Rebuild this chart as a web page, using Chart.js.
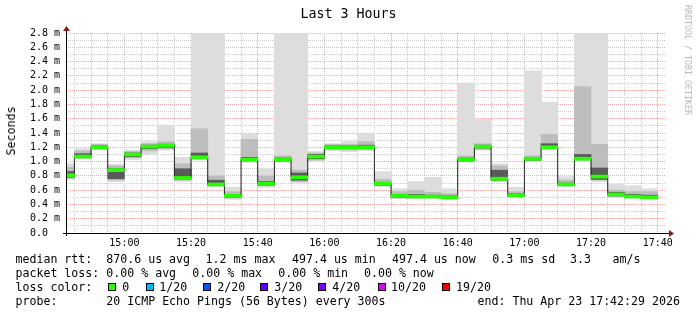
<!DOCTYPE html>
<html>
<head>
<meta charset="utf-8">
<script src="https://cdn.jsdelivr.net/npm/chart.js@4.4.1/dist/chart.umd.min.js"></script>
<style>
  body { margin: 0; background: #fff; }
  #wrap { position: relative; width: 697px; height: 315px; font-family: "DejaVu Sans Mono", monospace; color: #000; overflow: hidden; }
  #chart { position: absolute; left: 0; top: 0; }
  .txt { position: absolute; white-space: pre; font-size: 11.6px; line-height: 14px; }
  #title { position: absolute; left: 0; top: 6px; width: 697px; text-align: center; font-size: 13.3px; line-height: 16px; }
  #ylabel { position: absolute; left: 11px; top: 131px; transform: translate(-50%, -50%) rotate(-90deg); font-size: 11.6px; white-space: pre; }
  #credit { position: absolute; left: 683px; top: 5px; writing-mode: vertical-rl; font-size: 8.3px; color: #b8b8b8; white-space: pre; }
  .box { position: absolute; width: 6px; height: 6px; border: 1px solid #000; }
</style>
</head>
<body>
<div id="wrap">
  <canvas id="chart" width="697" height="315"></canvas>
  <div id="title"></div>
  <div id="ylabel"></div>
  <div id="credit"></div>
  <div id="legend"></div>
</div>
<script>
const titleText = "Last 3 Hours"
const yAxisTitle = "Seconds"
const creditText = "RRDTOOL / TOBI OETIKER"

// 5 minute steps, start time of each step
const stepTimes = ["14:40","14:45","14:50","14:55","15:00","15:05","15:10","15:15","15:20","15:25","15:30","15:35",
  "15:40","15:45","15:50","15:55","16:00","16:05","16:10","16:15","16:20","16:25","16:30","16:35",
  "16:40","16:45","16:50","16:55","17:00","17:05","17:10","17:15","17:20","17:25","17:30","17:35"]
const stepLength = 5
const rangeStart = "14:42:29"
const rangeEnd = "17:42:29"

// values in milliseconds
const median   = [0.81,1.07,1.20,0.88,1.10,1.21,1.23,0.77,1.06,0.68,0.52,1.03,0.69,1.03,0.78,1.07,1.20,1.20,1.20,0.69,0.52,0.51,0.51,0.50,1.03,1.21,0.76,0.53,1.04,1.20,0.68,1.04,0.79,0.54,0.51,0.50]
const smokeMax = [0.97,1.18,1.25,0.96,1.16,1.28,1.51,1.06,2.80,2.80,0.64,1.38,0.90,2.80,2.80,1.14,1.25,1.28,1.40,0.86,0.62,0.72,0.78,0.62,2.10,1.59,0.97,0.64,2.27,1.83,0.79,2.80,2.80,0.68,0.66,0.62]
const smokeMin = [0.75,1.04,1.17,0.72,1.03,1.11,1.16,0.72,1.03,0.65,0.47,0.99,0.64,0.99,0.70,1.00,1.15,1.14,1.15,0.65,0.48,0.48,0.49,0.47,0.99,1.16,0.72,0.50,1.00,1.17,0.65,1.00,0.72,0.50,0.49,0.48]
const midHi    = [0.92,1.15,1.24,0.94,1.14,1.25,1.28,0.97,1.46,0.80,0.58,1.31,0.80,1.08,0.88,1.12,1.24,1.24,1.28,0.75,0.58,0.60,0.57,0.55,1.08,1.25,0.94,0.58,1.08,1.38,0.74,2.05,1.24,0.60,0.58,0.58]
const midLo    = [0.77,1.05,1.18,0.74,1.05,1.15,1.18,0.74,1.04,0.66,0.49,1.00,0.66,1.00,0.72,1.02,1.17,1.16,1.17,0.66,0.49,0.49,0.49,0.48,1.00,1.17,0.73,0.51,1.01,1.18,0.66,1.02,0.74,0.51,0.50,0.49]
const coreHi   = [0.86,1.11,1.22,0.90,1.12,1.23,1.24,0.90,1.12,0.74,0.54,1.06,0.72,1.05,0.84,1.10,1.22,1.22,1.23,0.71,0.54,0.54,0.53,0.52,1.05,1.23,0.88,0.55,1.05,1.25,0.70,1.10,0.91,0.57,0.54,0.53]
const coreLo   = [0.78,1.06,1.19,0.76,1.07,1.18,1.20,0.75,1.05,0.67,0.50,1.01,0.67,1.01,0.74,1.04,1.19,1.18,1.18,0.67,0.50,0.50,0.50,0.49,1.01,1.19,0.74,0.51,1.02,1.19,0.67,1.03,0.75,0.52,0.50,0.49]
const medianHalfWidth = 0.021

const xTickLabels = ["15:00","15:20","15:40","16:00","16:20","16:40","17:00","17:20","17:40"]
const yTickLabels = ["0.0","0.2 m","0.4 m","0.6 m","0.8 m","1.0 m","1.2 m","1.4 m","1.6 m","1.8 m","2.0 m","2.2 m","2.4 m","2.6 m","2.8 m"]
const yMax = 2.8
const yStep = 0.1

const statsRow  = ["median rtt:", "870.6 us avg", "1.2 ms max", "497.4 us min", "497.4 us now", "0.3 ms sd", "3.3", "am/s"]
const lossRow   = ["packet loss:", "0.00 % avg", "0.00 % max", "0.00 % min", "0.00 % now"]
const lossTitle = "loss color:"
const lossLabels = ["0","1/20","2/20","3/20","4/20","10/20","19/20"]
const lossColors = ["#26ff00","#00b8ff","#0059ff","#5e00ff","#7e00ff","#dd00ff","#ff0000"]
const probeRow  = ["probe:", "20 ICMP Echo Pings (56 Bytes) every 300s", "end: Thu Apr 23 17:42:29 2026"]

// legend layout (pixels)
const rowTop = [252, 266, 280, 294]
const statsX = [15.5, 106.3, 205.6, 292, 392, 492.3, 570, 612.5]
const lossX  = [15.5, 106.3, 192.3, 278.3, 364]
const probeX = [15.5, 106.3, 477.5]
const boxX   = [108.3, 145.7, 202.7, 260, 318.3, 377.7, 441.7]
const boxLabelX = [122.3, 159.3, 217.3, 274.3, 332.3, 391, 456]

const font = "'DejaVu Sans Mono', monospace"
const gridMinor = "#cccccc"
const gridMajor = "#f0a8a8"

function toMin(t) {
  const p = t.split(":").map(Number)
  return p[0] * 60 + p[1] + (p[2] || 0) / 60
}
function fmtMin(v) {
  const h = Math.floor(v / 60), m = Math.round(v - h * 60)
  return String(h).padStart(2, "0") + ":" + String(m).padStart(2, "0")
}

const centers = stepTimes.map(t => toMin(t) + stepLength / 2)
const gridTimes = stepTimes.slice(1).map(toMin).concat([toMin(stepTimes[stepTimes.length - 1]) + stepLength])
const band = (lo, hi) => centers.map((x, i) => ({ x, y: [lo[i], hi[i]] }))

document.getElementById("title").textContent = titleText
document.getElementById("ylabel").textContent = yAxisTitle
document.getElementById("credit").textContent = creditText

const legend = document.getElementById("legend")
function put(text, x, top) {
  const el = document.createElement("div")
  el.className = "txt"
  el.style.left = x + "px"
  el.style.top = top + "px"
  el.textContent = text
  legend.appendChild(el)
}
statsRow.forEach((s, i) => put(s, statsX[i], rowTop[0]))
lossRow.forEach((s, i) => put(s, lossX[i], rowTop[1]))
put(lossTitle, 15.5, rowTop[2])
lossLabels.forEach((s, i) => {
  const box = document.createElement("div")
  box.className = "box"
  box.style.left = boxX[i] + "px"
  box.style.top = (rowTop[2] + 3.3) + "px"
  box.style.background = lossColors[i]
  legend.appendChild(box)
  put(s, boxLabelX[i], rowTop[2])
})
probeRow.forEach((s, i) => put(s, probeX[i], rowTop[3]))

const rrdAxes = {
  id: "rrdAxes",
  afterDraw(chart) {
    const { ctx, chartArea: a } = chart
    ctx.save()
    ctx.strokeStyle = "#000"
    ctx.lineWidth = 1
    ctx.beginPath()
    ctx.moveTo(a.left + 0.5, a.bottom + 3)
    ctx.lineTo(a.left + 0.5, a.top - 2)
    ctx.moveTo(a.left - 3, a.bottom + 0.5)
    ctx.lineTo(a.right + 3, a.bottom + 0.5)
    ctx.stroke()
    ctx.fillStyle = "#8b1a1a"
    ctx.beginPath()
    ctx.moveTo(a.left + 0.5, a.top - 7)
    ctx.lineTo(a.left - 3, a.top - 2)
    ctx.lineTo(a.left + 4, a.top - 2)
    ctx.fill()
    ctx.beginPath()
    ctx.moveTo(a.right + 8, a.bottom + 0.5)
    ctx.lineTo(a.right + 3, a.bottom - 3)
    ctx.lineTo(a.right + 3, a.bottom + 4)
    ctx.fill()
    ctx.restore()
  }
}

const barBase = { type: "bar", grouped: false, barPercentage: 1, categoryPercentage: 1, borderWidth: 0, clip: 0 }

new Chart(document.getElementById("chart"), {
  type: "bar",
  data: {
    datasets: [
      { ...barBase, label: "median", data: centers.map((x, i) => ({ x, y: [median[i] - medianHalfWidth, median[i] + medianHalfWidth] })), backgroundColor: lossColors[0], order: 0 },
      { type: "line", label: "median line", data: centers.map((x, i) => ({ x, y: median[i] })), stepped: "middle", borderColor: "#202020", borderWidth: 1, pointRadius: 0, fill: false, order: 1 },
      { ...barBase, label: "core", data: band(coreLo, coreHi), backgroundColor: "#5a5a5a", order: 2 },
      { ...barBase, label: "mid", data: band(midLo, midHi), backgroundColor: "#bdbdbd", order: 3 },
      { ...barBase, label: "smoke", data: band(smokeMin, smokeMax), backgroundColor: "#dddddd", order: 4 }
    ]
  },
  options: {
    responsive: false,
    animation: false,
    layout: { padding: { left: 30, top: 33, right: 31, bottom: 0 } },
    plugins: { legend: { display: false }, title: { display: false }, tooltip: { enabled: false } },
    scales: {
      x: {
        type: "linear",
        offset: false,
        min: toMin(rangeStart),
        max: toMin(rangeEnd),
        afterBuildTicks: axis => { axis.ticks = gridTimes.map(value => ({ value })) },
        afterFit: axis => { axis.height = 82 },
        grid: {
          offset: false,
          drawTicks: false,
          color: c => xTickLabels.includes(fmtMin(c.tick.value)) ? gridMajor : gridMinor
        },
        border: { display: false, dash: [1, 1] },
        ticks: {
          autoSkip: false,
          maxRotation: 0,
          padding: 4,
          color: "#000",
          font: { family: font, size: 10 },
          callback: v => xTickLabels.includes(fmtMin(v)) ? fmtMin(v) : ""
        }
      },
      y: {
        min: 0,
        max: yMax,
        afterFit: axis => { axis.width = 36 },
        grid: {
          drawTicks: false,
          color: c => Math.round(c.tick.value / yStep) % 2 === 0 ? gridMajor : gridMinor
        },
        border: { display: false, dash: [1, 1] },
        ticks: {
          stepSize: yStep,
          autoSkip: false,
          crossAlign: "far",
          color: "#000",
          font: { family: font, size: 10 },
          callback: v => {
            const k = Math.round(v / yStep)
            return k % 2 === 0 ? yTickLabels[k / 2] : ""
          }
        }
      }
    }
  },
  plugins: [rrdAxes]
})
</script>
</body>
</html>
